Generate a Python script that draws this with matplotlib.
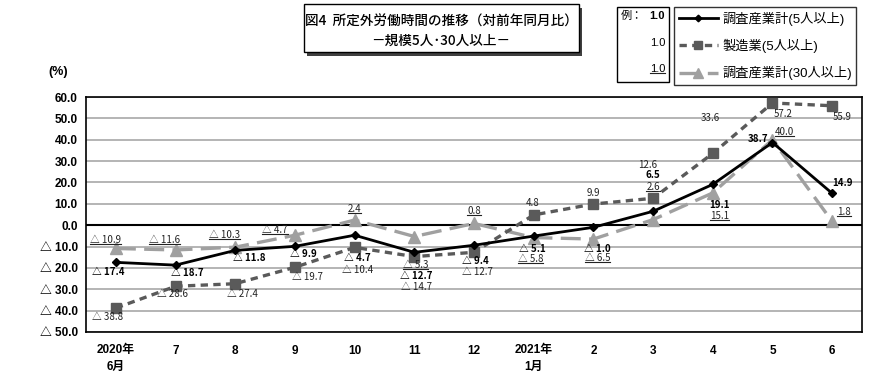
import matplotlib
matplotlib.use('Agg')
import matplotlib.pyplot as plt
from matplotlib.patches import Rectangle
from matplotlib.lines import Line2D
from matplotlib.transforms import IdentityTransform

plt.rcParams['font.family'] = ['Liberation Sans', 'Noto Sans CJK JP', 'DejaVu Sans']

months = ['2020年\n6月', '7', '8', '9', '10', '11', '12', '2021年\n1月', '2', '3', '4', '5', '6']
total5 = [-17.4, -18.7, -11.8, -9.9, -4.7, -12.7, -9.4, -5.1, -1.0, 6.5, 19.1, 38.7, 14.9]
manu5 = [-38.8, -28.6, -27.4, -19.7, -10.4, -14.7, -12.7, 4.8, 9.9, 12.6, 33.6, 57.2, 55.9]
total30 = [-10.9, -11.6, -10.3, -4.7, 2.4, -5.3, 0.8, -5.8, -6.5, 2.6, 15.1, 40.0, 1.8]
yticks = [60, 50, 40, 30, 20, 10, 0, -10, -20, -30, -40, -50]

# label offsets (pixels) from each point
off_total = [(-8, -10), (12, -8), (14, -8), (8, -8), (3, -23), (2, -24), (1, -16),
             (-1, -13), (4, -22), (0, 36), (7, -21), (-14, 4), (10, 10)]
off_manu = [(-8, -9), (-3, -8), (7, -10), (13, -10), (3, -23), (2, -30), (3, -20),
            (-1, 12), (0, 11), (-5, 33), (-2, 35), (11, -11), (10, -11)]
off_30 = [(-10, 8), (-11, 10), (-11, 12), (-20, 5), (0, 11), (1, -28), (0, 12),
          (-3, -21), (4, -19), (0, 33), (7, -23), (12, 8), (12, 9)]

W, H = 890, 392
def fx(p):
    return p / W
def fy(p):
    return 1 - p / H

def fmt(v):
    return f'{v:.1f}' if v >= 0 else f'△ {abs(v):.1f}'

fig = plt.figure(figsize=(8.9, 3.92), dpi=100)
ax = fig.add_axes([fx(86), fy(332), fx(862) - fx(86), fy(97) - fy(332)])

x = list(range(len(months)))
c_manu = '#5a5a5a'
c_30 = '#a0a0a0'

ax.plot(x, manu5, color=c_manu, lw=2.4, ls=(0, (2.2, 1.6)), marker='s', ms=7,
        label='製造業(5人以上)', zorder=3)
ax.plot(x, total30, color=c_30, lw=2.4, ls=(0, (6, 2.5)), marker='^', ms=9,
        label='調査産業計(30人以上)', zorder=2)
ax.plot(x, total5, color='black', lw=2, marker='D', ms=4.5,
        label='調査産業計(5人以上)', zorder=4)

ax.set_xlim(-0.5, 12.5)
ax.set_ylim(-50, 60)
ax.set_yticks(yticks)
ax.set_yticklabels([fmt(v) for v in yticks], fontsize=8.5, fontweight='bold',
                   family=['Liberation Sans', 'Noto Sans CJK JP', 'DejaVu Sans'])
ax.set_xticks(x)
ax.set_xticklabels(months, fontsize=8.5, fontweight='bold',
                   family=['Liberation Sans', 'Noto Sans CJK JP'], linespacing=1.5)
ax.tick_params(length=0, pad=6)
ax.tick_params(axis='x', pad=9)
for v in yticks:
    if v != 0:
        ax.axhline(v, color='#a8a8a8', lw=1.2, zorder=0)
ax.axhline(0, color='black', lw=1.5, zorder=1)
for s in ax.spines.values():
    s.set_linewidth(1.2)

lab_fam = ['Liberation Sans Narrow', 'Noto Sans CJK JP', 'DejaVu Sans']
underlined = []
for i in x:
    ax.annotate(fmt(manu5[i]), (i, manu5[i]), xytext=off_manu[i], textcoords='offset pixels',
                ha='center', va='center', fontsize=7, family=lab_fam, color='#222222')
    ax.annotate(fmt(total5[i]), (i, total5[i]), xytext=off_total[i], textcoords='offset pixels',
                ha='center', va='center', fontsize=7, family=lab_fam, fontweight='bold')
    t = ax.annotate(fmt(total30[i]), (i, total30[i]), xytext=off_30[i], textcoords='offset pixels',
                    ha='center', va='center', fontsize=7, family=lab_fam, color='#222222')
    underlined.append(t)

fig.text(fx(58), fy(72), '(%)', ha='center', va='center', fontsize=9, fontweight='bold')

# title box with shadow
fig.patches.append(Rectangle((fx(307), fy(56)), fx(579) - fx(304), fy(4) - fy(52),
                             transform=fig.transFigure, facecolor='#404040', edgecolor='none'))
fig.patches.append(Rectangle((fx(304), fy(52)), fx(579) - fx(304), fy(4) - fy(52),
                             transform=fig.transFigure, facecolor='white', edgecolor='black', lw=1))
fig.text(fx(441), fy(22), '図4  所定外労働時間の推移（対前年同月比）', ha='center', va='center',
         fontsize=9.8, family='Noto Sans CJK JP', fontweight='medium')
fig.text(fx(441), fy(41), '－規模5人･30人以上－', ha='center', va='center',
         fontsize=9.8, family='Noto Sans CJK JP', fontweight='medium')

# example box
fig.patches.append(Rectangle((fx(617), fy(82)), fx(669) - fx(617), fy(7) - fy(82),
                             transform=fig.transFigure, facecolor='white', edgecolor='black', lw=1))
fig.text(fx(621), fy(16), '例：', ha='left', va='center', fontsize=8, family='Noto Sans CJK JP')
fig.text(fx(665), fy(16), '1.0', ha='right', va='center', fontsize=8, fontweight='bold')
fig.text(fx(665), fy(43), '1.0', ha='right', va='center', fontsize=8)
underlined.append(fig.text(fx(665), fy(69), '1.0', ha='right', va='center', fontsize=8))

# legend
h, l = ax.get_legend_handles_labels()
order = [2, 0, 1]
leg = fig.legend([h[k] for k in order], [l[k] for k in order], loc='upper left',
                 bbox_to_anchor=(fx(674), fy(7)), frameon=True, fancybox=False,
                 edgecolor='black', handlelength=3.0, handletextpad=0.3, markerscale=0.75,
                 labelspacing=1.0, borderpad=0.35, borderaxespad=0,
                 prop={'family': ['Liberation Sans', 'Noto Sans CJK JP'], 'size': 9.5})
leg.get_frame().set_linewidth(1)

fig.canvas.draw()
r = fig.canvas.get_renderer()
for t in underlined:
    bb = t.get_window_extent(r)
    fig.add_artist(Line2D([bb.x0, bb.x1], [bb.y0 + 1, bb.y0 + 1], transform=IdentityTransform(),
                          color='#222222', lw=0.8))

fig.savefig('out.png', dpi=100, facecolor='white')
